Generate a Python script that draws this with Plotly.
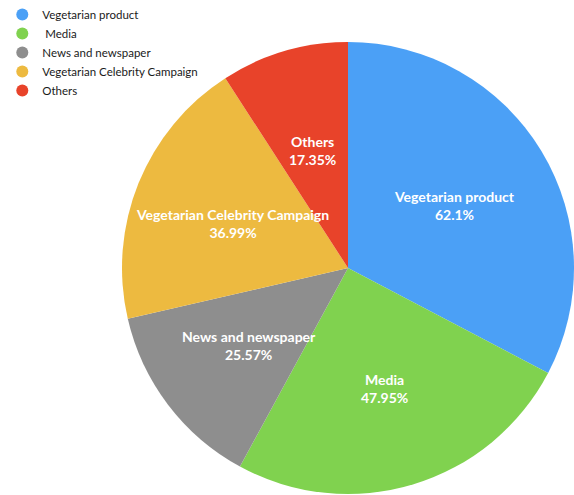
import math
import plotly.graph_objects as go

labels = ["Vegetarian product", "Media", "News and newspaper", "Vegetarian Celebrity Campaign", "Others"]
legend_labels = ["Vegetarian product", " Media", "News and newspaper", "Vegetarian Celebrity Campaign", "Others"]
values = [62.1, 47.95, 25.57, 36.99, 17.35]
colors = ["#4BA0F6", "#80D24F", "#8E8E8E", "#EDBA40", "#E8432A"]

W, H = 574, 495
cx_px, cy_px, R = 348, 268, 226

fig = go.Figure()
fig.add_trace(go.Pie(
    labels=labels, values=values, sort=False, direction="clockwise", rotation=0,
    marker=dict(colors=colors, line=dict(width=0)),
    textinfo="none", showlegend=False, hoverinfo="label+value",
    domain=dict(x=[(cx_px - R) / W, (cx_px + R) / W],
                y=[(H - cy_px - R) / H, (H - cy_px + R) / H]),
))

for lab, col in zip(legend_labels, colors):
    fig.add_trace(go.Scatter(x=[None], y=[None], mode="markers", name=lab,
                             marker=dict(color=col, size=12, symbol="circle")))

total = sum(values)
cum = 0.0
annotations = []
for lab, v in zip(labels, values):
    mid = (cum + v / 2) / total * 2 * math.pi
    cum += v
    r = 0.55 * R
    px = cx_px + r * math.sin(mid)
    py = cy_px - r * math.cos(mid) + 2
    annotations.append(dict(
        x=px / W, y=1 - py / H, xref="paper", yref="paper",
        text=f"{lab}<br>{v}%", showarrow=False,
        font=dict(color="white", size=14, family="Lato", weight="bold"),
        xanchor="center", yanchor="middle", align="center",
    ))

fig.update_layout(
    width=W, height=H, margin=dict(l=0, r=0, t=0, b=0),
    paper_bgcolor="white", plot_bgcolor="white",
    xaxis=dict(visible=False), yaxis=dict(visible=False),
    font=dict(family="Lato", size=11, color="#1a1a1a"),
    legend=dict(x=0.004, y=1.0, xanchor="left", yanchor="top",
                bgcolor="rgba(0,0,0,0)", font=dict(size=11.5)),
    annotations=annotations,
)
fig.write_html("out.html")
